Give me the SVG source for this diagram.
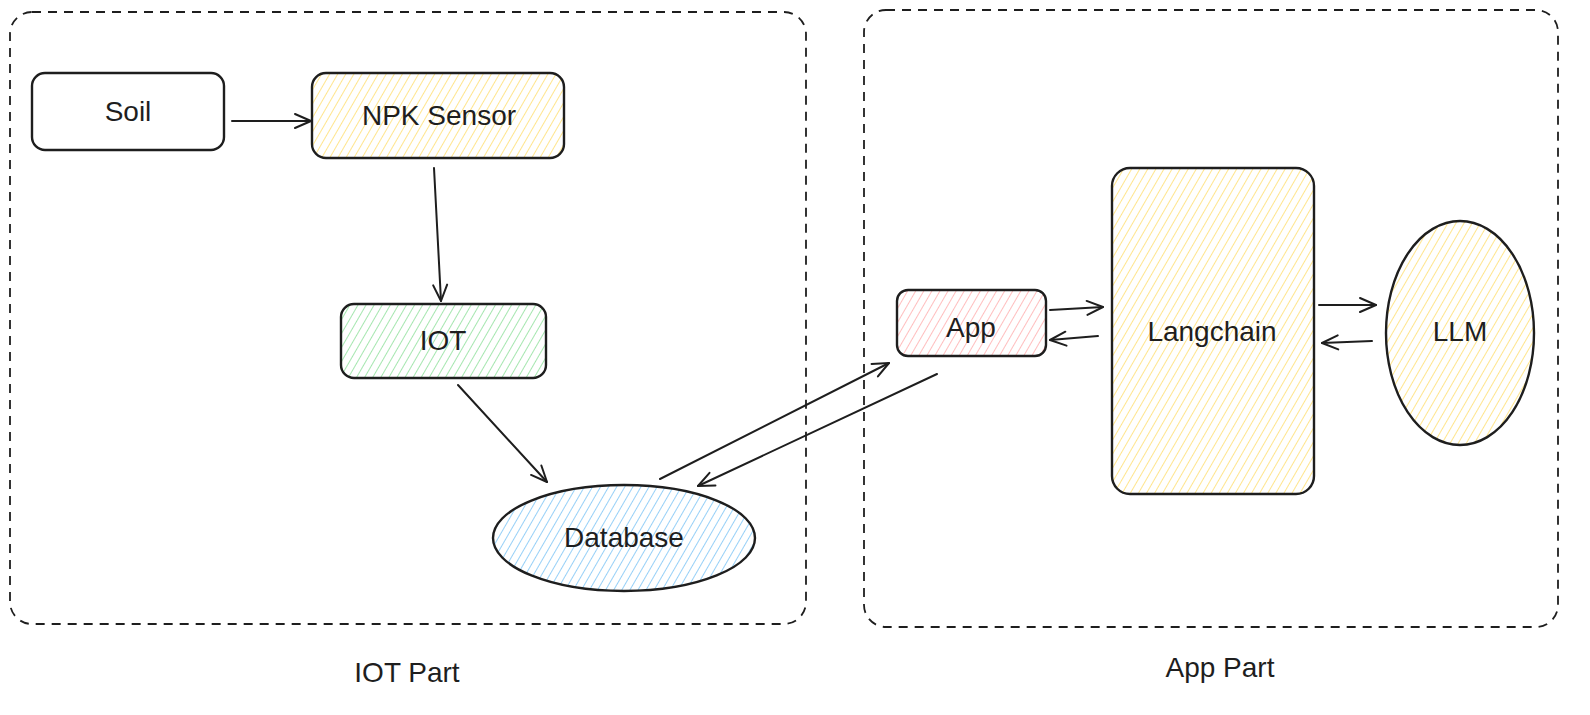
<svg xmlns="http://www.w3.org/2000/svg" width="1590" height="715" viewBox="0 0 1590 715">
<style>
.frame{fill:none;stroke:#1e1e1e;stroke-width:1.8;stroke-dasharray:9 7}
.node{stroke:#1e1e1e;stroke-width:2.4}
.lbl{font-family:"Liberation Sans",Arial,sans-serif;font-size:28px;fill:#1e1e1e;text-anchor:middle;dominant-baseline:central}
.cap{font-family:"Liberation Sans",Arial,sans-serif;font-size:28px;fill:#1e1e1e;text-anchor:middle;dominant-baseline:central}
.conn{fill:none;stroke:#1e1e1e;stroke-width:2;stroke-linecap:round}
</style>
<defs>
<pattern id="hY" width="7" height="7" patternUnits="userSpaceOnUse" patternTransform="rotate(30)"><line x1="0" y1="0" x2="0" y2="7" stroke="#ffdf70" stroke-width="1.6"/></pattern>
<pattern id="hG" width="7" height="7" patternUnits="userSpaceOnUse" patternTransform="rotate(30)"><line x1="0" y1="0" x2="0" y2="7" stroke="#8ee09b" stroke-width="1.6"/></pattern>
<pattern id="hB" width="7" height="7" patternUnits="userSpaceOnUse" patternTransform="rotate(30)"><line x1="0" y1="0" x2="0" y2="7" stroke="#7cc4f5" stroke-width="1.6"/></pattern>
<pattern id="hR" width="7" height="7" patternUnits="userSpaceOnUse" patternTransform="rotate(30)"><line x1="0" y1="0" x2="0" y2="7" stroke="#ffadad" stroke-width="1.6"/></pattern>
<marker id="arr" viewBox="0 0 20 20" refX="18" refY="10" markerWidth="20" markerHeight="20" markerUnits="userSpaceOnUse" orient="auto">
<path d="M2 3 L18 10 L2 17" fill="none" stroke="#1e1e1e" stroke-width="2" stroke-linecap="round" stroke-linejoin="round"/>
</marker>
</defs>

<g id="iot-part">
<rect class="frame" x="10" y="12" width="796" height="612" rx="22"/>
<text class="cap" x="407" y="672">IOT Part</text>
</g>
<g id="app-part">
<rect class="frame" x="864" y="10" width="694" height="617" rx="22"/>
<text class="cap" x="1220" y="667">App Part</text>
</g>

<g id="soil">
<rect class="node" x="32" y="73" width="192" height="77" rx="13" fill="#ffffff"/>
<text class="lbl" x="128" y="111">Soil</text>
</g>
<g id="npk-sensor">
<rect class="node" x="312" y="73" width="252" height="85" rx="14" fill="url(#hY)"/>
<text class="lbl" x="439" y="115">NPK Sensor</text>
</g>
<g id="iot">
<rect class="node" x="341" y="304" width="205" height="74" rx="13" fill="url(#hG)"/>
<text class="lbl" x="443" y="340">IOT</text>
</g>
<g id="database">
<ellipse class="node" cx="624" cy="538" rx="131" ry="53" fill="url(#hB)"/>
<text class="lbl" x="624" y="537">Database</text>
</g>
<g id="app">
<rect class="node" x="897" y="290" width="149" height="66" rx="11" fill="url(#hR)"/>
<text class="lbl" x="971" y="327">App</text>
</g>
<g id="langchain">
<rect class="node" x="1112" y="168" width="202" height="326" rx="18" fill="url(#hY)"/>
<text class="lbl" x="1212" y="331">Langchain</text>
</g>
<g id="llm">
<ellipse class="node" cx="1460" cy="333" rx="74" ry="112" fill="url(#hY)"/>
<text class="lbl" x="1460" y="331">LLM</text>
</g>

<g id="connectors">
<path class="conn" d="M232 121 L311 121" marker-end="url(#arr)"/>
<path class="conn" d="M434 168 L441 301" marker-end="url(#arr)"/>
<path class="conn" d="M458 385 L547 482" marker-end="url(#arr)"/>
<path class="conn" d="M660 479 L889 363" marker-end="url(#arr)"/>
<path class="conn" d="M937 374 L698 486" marker-end="url(#arr)"/>
<path class="conn" d="M1050 310 L1103 307" marker-end="url(#arr)"/>
<path class="conn" d="M1098 336 L1050 340" marker-end="url(#arr)"/>
<path class="conn" d="M1319 305 L1376 305" marker-end="url(#arr)"/>
<path class="conn" d="M1372 341 L1322 343" marker-end="url(#arr)"/>
</g>
</svg>
